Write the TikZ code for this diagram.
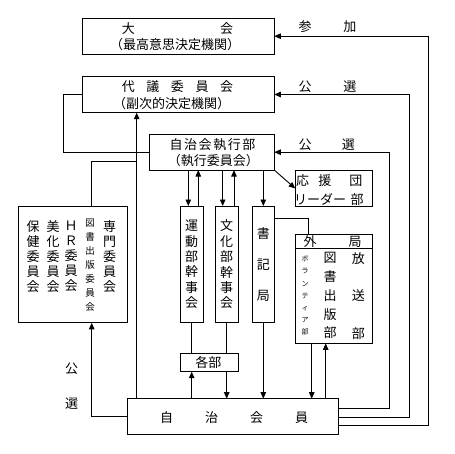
\documentclass[tikz,border=0pt]{standalone}
\usepackage{fontspec}
\setmainfont{Noto Sans CJK JP}
\usetikzlibrary{arrows.meta}
\begin{document}
\begin{tikzpicture}[x=1pt,y=-1pt,
  every node/.style={inner sep=0pt, outer sep=0pt},
  box/.style={draw, line width=0.9pt},
  txt/.style={font=\fontsize{13}{15}\selectfont},
  vcol/.style={align=center, font=\fontsize{13}{#1}\selectfont},
  ln/.style={line width=0.9pt},
  arr/.style={line width=0.9pt, -{Triangle[length=6.5pt,width=5.5pt]}},
]
\useasboundingbox (0,0) rectangle (455,453);
% boxes
\node[box, minimum width=191.6pt, minimum height=35.7pt] (taikai) at (178.5,36.2) {};
\node[box, minimum width=191.6pt, minimum height=36.4pt] (daigi) at (178.5,94.5) {};
\node[box, minimum width=125pt, minimum height=35.7pt] (exec) at (211.8,152.2) {};
\node[box, minimum width=76.7pt, minimum height=35.7pt] (ouen) at (333.6,188.5) {};
\node[box, minimum width=108.9pt, minimum height=116.6pt] (iinkai) at (72.75,264.5) {};
\node[box, minimum width=23.5pt, minimum height=116pt] (undo) at (191.8,264) {};
\node[box, minimum width=22.8pt, minimum height=116pt] (bunka) at (226.7,264) {};
\node[box, minimum width=22pt, minimum height=116pt] (shoki) at (263.3,264) {};
\node[box, minimum width=77.3pt, minimum height=108.8pt] (gaikyoku) at (334,289) {};
\node[box, minimum width=58pt, minimum height=18.4pt] (kakubu) at (209.3,362.5) {};
\node[box, minimum width=210.6pt, minimum height=35.6pt] (jichi) at (233,416.5) {};
% texts
\node[txt] (t1a) at (177.5,28.3) {大\hspace{85.4pt}会};
\node[txt] (t1b) at (175,45) {（最高意思決定機関）};
\node[txt] (t2a) at (177.5,86.7) {代\hspace{11.6pt}議\hspace{11.6pt}委\hspace{11.6pt}員\hspace{11.6pt}会};
\node[txt] (t2b) at (171.7,104) {（副次的決定機関）};
\node[txt] (t3a) at (212.5,144.5) {自\kern1.6pt 治\kern1.6pt 会\kern1.6pt 執\kern1.6pt 行\kern1.6pt 部};
\node[txt] (t3b) at (213.3,161) {（執行委員会）};
\node[txt, anchor=west] (t4a) at (296,180.7) {応\hspace{9.3pt}援\hspace{18pt}団};
\node[txt, anchor=west] (t4b) at (294,200) {リーダー\hspace{4.7pt}部};
\node[vcol=15] (c1) at (33.2,256.5) {保\\健\\委\\員\\会};
\node[vcol=15] (c2) at (53,256.5) {美\\化\\委\\員\\会};
\node[vcol=15] (c3) at (71,256.5) {Ｈ\\Ｒ\\委\\員\\会};
\node[align=center, font=\fontsize{9.5}{14}\selectfont] (c4) at (90,265) {図\\書\\出\\版\\委\\員\\会};
\node[vcol=15] (c5) at (109.5,256.5) {専\\門\\委\\員\\会};
\node[vcol=15.4] (t5) at (191.5,264.5) {運\\動\\部\\幹\\事\\会};
\node[vcol=15.4] (t6) at (226.5,264.5) {文\\化\\部\\幹\\事\\会};
\node[vcol=31] (t7) at (263.3,265) {書\\記\\局};
\node[txt] (t8a) at (310,241.7) {外};
\node[txt] (t8b) at (355,241.7) {局};
\node[align=center, font=\fontsize{7}{12.06}\selectfont] (t8c) at (305,295.5) {ボ\\ラ\\ン\\テ\\ィ\\ア\\部};
\node[vcol=18.75] (t8d) at (330,295.8) {図\\書\\出\\版\\部};
\node[vcol=37.5] (t8e) at (358.3,295.8) {放\\送\\部};
\node[txt] (t9) at (208.3,362.7) {各部};
\node[txt] (t10) at (234.2,417.3) {自\hspace{32pt}治\hspace{32pt}会\hspace{32pt}員};
\node[txt] (l1) at (327.5,26.7) {参\hspace{32pt}加};
\node[txt] (l2) at (327.5,86.7) {公\hspace{32pt}選};
\node[txt] (l3) at (326.7,145) {公\hspace{30.3pt}選};
\node[txt] (l4) at (71.7,368.3) {公};
\node[txt] (l5) at (71.7,403.3) {選};
% coordinates
\coordinate (vL) at (136.7,0);
\coordinate (xC) at (91.7,0);
\coordinate (xD) at (63.3,0);
\coordinate (x1) at (188.3,0);
\coordinate (x2) at (198.3,0);
\coordinate (x3) at (222.7,0);
\coordinate (x4) at (234,0);
\coordinate (xG) at (308.3,0);
\coordinate (xo1) at (311.7,0);
\coordinate (xo2) at (325.7,0);
\coordinate (ka1) at (191.7,0);
\coordinate (ka2) at (226.7,0);
\coordinate (r1) at (389.3,0);
\coordinate (r2) at (409.3,0);
\coordinate (r3) at (428.5,0);
\coordinate (yC) at (0,161.7);
\coordinate (yS) at (0,218.7);
\coordinate (yH) at (0,248.7);
\coordinate (yj1) at (0,408.3);
\coordinate (yj2) at (0,417.3);
\coordinate (yj3) at (0,425.7);
% connectors
\draw[arr] (jichi.east |- yj3) -| (r3 |- taikai.east) -- (taikai.east);
\draw[arr] (jichi.east |- yj2) -| (r2 |- daigi.east) -- (daigi.east);
\draw[arr] (jichi.east |- yj1) -| (r1 |- exec.east) -- (exec.east);
\draw[arr] (jichi.north -| vL) -- (daigi.south -| vL);
\draw[ln] (daigi.west) -| (xD |- exec.west) -- (exec.west);
\draw[ln] (iinkai.north -| xC) |- (vL |- yC);
\draw[arr] (jichi.west) -| (iinkai.south -| xC);
\draw[arr] (exec.south -| x1) -- (undo.north -| x1);
\draw[arr] (undo.north -| x2) -- (exec.south -| x2);
\draw[arr] (exec.south -| x3) -- (bunka.north -| x3);
\draw[arr] (bunka.north -| x4) -- (exec.south -| x4);
\draw[arr] (exec.south -| shoki.north) -- (shoki.north);
\draw[arr] (exec.south east) -- (ouen.west);
\draw[ln] (shoki.east |- yS) -| (gaikyoku.north -| xG);
\draw[ln] (gaikyoku.west |- yH) -- (gaikyoku.east |- yH);
\draw[ln] (undo.south) -- (kakubu.north -| undo.south);
\draw[ln] (bunka.south) -- (kakubu.north -| bunka.south);
\draw[arr] (jichi.north -| ka1) -- (kakubu.south -| ka1);
\draw[arr] (kakubu.south -| ka2) -- (jichi.north -| ka2);
\draw[arr] (shoki.south) -- (jichi.north -| shoki.south);
\draw[arr] (gaikyoku.south -| xo1) -- (jichi.north -| xo1);
\draw[arr] (jichi.north -| xo2) -- (gaikyoku.south -| xo2);
\end{tikzpicture}
\end{document}
